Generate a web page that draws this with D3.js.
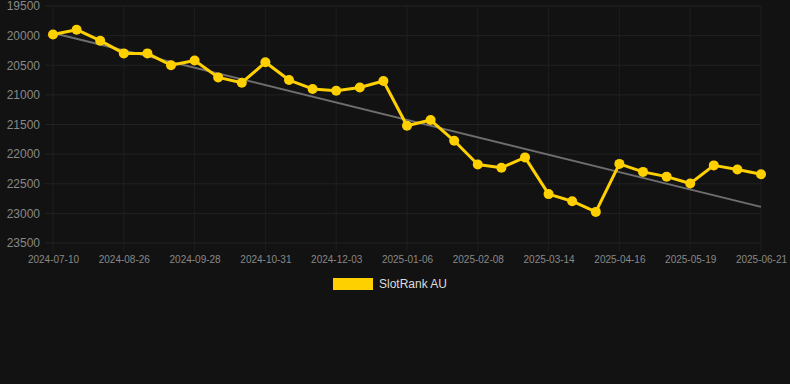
<!DOCTYPE html>
<html>
<head>
<meta charset="utf-8">
<script src="https://cdn.jsdelivr.net/npm/d3@7"></script>
<style>
  html, body { margin: 0; padding: 0; background: #121212; }
  svg { display: block; font-family: "Liberation Sans", Arial, Helvetica, sans-serif; }
</style>
</head>
<body>
<div id="chart"></div>
<script>
// dates on the category axis (every third one is labelled)
const dates = [
    '2024-07-10', '2024-07-26', '2024-08-10', '2024-08-26', '2024-09-05', '2024-09-17',
    '2024-09-28', '2024-10-09', '2024-10-20', '2024-10-31', '2024-11-11', '2024-11-22',
    '2024-12-03', '2024-12-14', '2024-12-25', '2025-01-06', '2025-01-17', '2025-01-28',
    '2025-02-08', '2025-02-19', '2025-03-03', '2025-03-14', '2025-03-25', '2025-04-05',
    '2025-04-16', '2025-04-27', '2025-05-08', '2025-05-19', '2025-05-30', '2025-06-10',
    '2025-06-21'
];

// SlotRank AU rank values
const ranks = [
    19980, 19900, 20085, 20300, 20300, 20500, 20420, 20705, 20795, 20450, 20750,
    20900, 20930, 20875, 20765, 21520, 21425, 21775, 22175, 22230, 22055, 22675,
    22795, 22975, 22165, 22300, 22380, 22495, 22190, 22260, 22340
];

// trend line, first and last value
const trendValues = [19955, 22890];

const yTicks = [19500, 20000, 20500, 21000, 21500, 22000, 22500, 23000, 23500];
const seriesName = 'SlotRank AU';

const width = 790, height = 384;
const margin = { left: 53, right: 761, top: 6, bottom: 243 };

const svg = d3.select('#chart').append('svg')
    .attr('width', width)
    .attr('height', height)
    .style('background-color', '#121212');

const x = d3.scalePoint().domain(dates).range([margin.left, margin.right]).padding(0);
const y = d3.scaleLinear().domain([19500, 23500]).range([margin.top, margin.bottom]);

const labelled = dates.filter((d, i) => i % 3 === 0);

// grid
svg.append('g').selectAll('line')
    .data(yTicks)
    .join('line')
    .attr('x1', margin.left - 8).attr('x2', margin.right)
    .attr('y1', d => y(d)).attr('y2', d => y(d))
    .attr('stroke', '#222').attr('stroke-width', 1);

svg.append('g').selectAll('line')
    .data(labelled)
    .join('line')
    .attr('x1', d => x(d)).attr('x2', d => x(d))
    .attr('y1', margin.top).attr('y2', margin.bottom + 8)
    .attr('stroke', '#1e1e1e').attr('stroke-width', 1);

// y axis labels
const yAxis = svg.append('g')
    .attr('transform', `translate(${margin.left - 10},0)`)
    .call(d3.axisLeft(y).tickValues(yTicks).tickSize(0).tickFormat(d3.format('d')));
yAxis.select('.domain').remove();
yAxis.selectAll('text')
    .attr('fill', '#888')
    .style('font-size', '12px')
    .style('font-family', '"Liberation Sans", Arial, sans-serif');

// x axis labels
const xAxis = svg.append('g')
    .attr('transform', `translate(0,${margin.bottom + 10})`)
    .call(d3.axisBottom(x).tickValues(labelled).tickSize(0));
xAxis.select('.domain').remove();
xAxis.selectAll('text')
    .attr('fill', '#888')
    .style('font-size', '10px')
    .style('font-family', '"Liberation Sans", Arial, sans-serif');

// trend line
svg.append('line')
    .attr('x1', x(dates[0])).attr('y1', y(trendValues[0]))
    .attr('x2', x(dates[dates.length - 1])).attr('y2', y(trendValues[1]))
    .attr('stroke', '#6e6e6e')
    .attr('stroke-width', 2);

// series line
const line = d3.line()
    .x((d, i) => x(dates[i]))
    .y(d => y(d));

svg.append('path')
    .datum(ranks)
    .attr('d', line)
    .attr('fill', 'none')
    .attr('stroke', '#ffd000')
    .attr('stroke-width', 3)
    .attr('stroke-linejoin', 'round');

svg.append('g').selectAll('circle')
    .data(ranks)
    .join('circle')
    .attr('cx', (d, i) => x(dates[i]))
    .attr('cy', d => y(d))
    .attr('r', 5)
    .attr('fill', '#ffd000');

// legend
const legend = svg.append('g').attr('transform', 'translate(333,278)');
legend.append('rect')
    .attr('width', 40).attr('height', 12)
    .attr('fill', '#ffd000');
legend.append('text')
    .attr('x', 46).attr('y', 6)
    .attr('dy', '0.35em')
    .attr('fill', '#ddd')
    .style('font-size', '12px')
    .text(seriesName);
</script>
</body>
</html>
